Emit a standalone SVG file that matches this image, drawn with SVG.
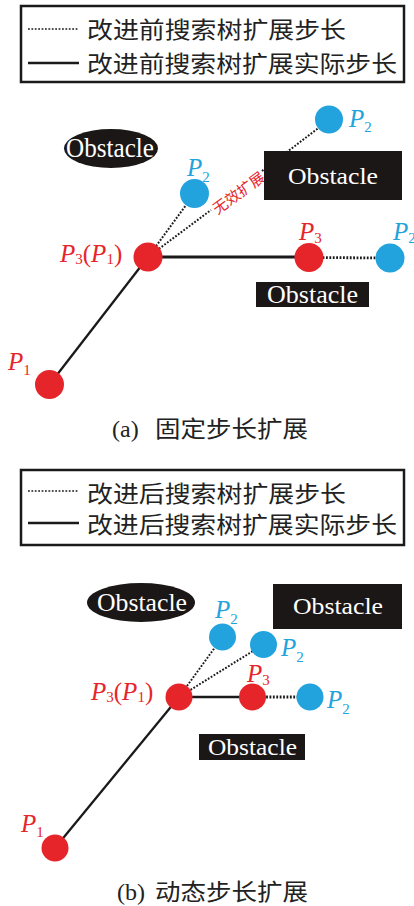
<svg xmlns="http://www.w3.org/2000/svg" width="414" height="906" viewBox="0 0 414 906">
<style>
.cjk{font-family:"Liberation Serif","Times New Roman","DejaVu Serif","Noto Sans CJK SC",serif;fill:#222;}
.ser{font-family:"Liberation Serif","Times New Roman","DejaVu Serif",serif;}
.obs{fill:#1c1717;}
.obt{font-family:"Liberation Serif","Times New Roman","DejaVu Serif",serif;fill:#fff;}
.red{fill:#e6252a;}
.blue{fill:#22a3dd;}
.lbl{font-family:"Liberation Serif","Times New Roman","DejaVu Serif",serif;font-size:25px;}
.it{font-style:italic;}
.sub{font-size:15px;}
.solid{stroke:#1a1a1a;fill:none;}
.dot{stroke:#1a1a1a;fill:none;stroke-dasharray:1.8 1.6;}
.box{fill:#fff;stroke:#1a1a1a;stroke-width:2.5;}
</style>
<rect width="414" height="906" fill="#fff"/>

<!-- Panel (a) legend -->
<g id="legend-a">
<rect class="box" x="21" y="6" width="383" height="76"/>
<line class="dot" x1="28" y1="29" x2="79" y2="29" stroke-width="1.6"/>
<text class="cjk" x="87" y="37.5" font-size="23" textLength="259" lengthAdjust="spacingAndGlyphs">改进前搜索树扩展步长</text>
<line class="solid" x1="28" y1="63" x2="79" y2="63" stroke-width="2.5"/>
<text class="cjk" x="87" y="72" font-size="23" textLength="310" lengthAdjust="spacingAndGlyphs">改进前搜索树扩展实际步长</text>
</g>

<!-- Panel (a) connectors -->
<g id="connectors-a">
<line class="solid" x1="49.5" y1="384.5" x2="148" y2="257" stroke-width="2.3"/>
<line class="solid" x1="148" y1="257" x2="309" y2="257" stroke-width="3"/>
<line class="dot" x1="309" y1="257.5" x2="390" y2="258" stroke-width="2.8"/>
<line class="dot" x1="148" y1="257" x2="194.5" y2="193.5" stroke-width="2"/>
<line class="dot" x1="148" y1="257" x2="211" y2="210" stroke-width="2"/>
<line class="dot" x1="262" y1="171" x2="329" y2="120" stroke-width="2"/>
<text x="0" y="0" font-family="'Noto Sans CJK SC',sans-serif" font-size="15" fill="#e6252a" text-anchor="middle" dominant-baseline="central" transform="translate(238,192) rotate(-36)">无效扩展</text>
</g>

<g id="obstacle-a-ellipse">
<ellipse class="obs" cx="111" cy="148.5" rx="47" ry="19.5"/>
<text class="obt" x="66" y="157" font-size="27" textLength="88" lengthAdjust="spacingAndGlyphs">Obstacle</text>
</g>
<g id="obstacle-a-top">
<rect class="obs" x="264" y="151" width="138" height="49"/>
<text class="obt" x="288" y="184" font-size="23" textLength="90" lengthAdjust="spacingAndGlyphs">Obstacle</text>
</g>
<g id="obstacle-a-bottom">
<rect class="obs" x="256" y="282" width="113" height="25"/>
<text class="obt" x="267" y="302.5" font-size="25" textLength="91" lengthAdjust="spacingAndGlyphs">Obstacle</text>
</g>

<g id="a-P2-top">
<circle class="blue" cx="329" cy="119.5" r="14"/>
<text class="lbl blue" x="349" y="127"><tspan class="it">P</tspan><tspan class="sub" dy="4.5">2</tspan></text>
</g>
<g id="a-P2-left">
<circle class="blue" cx="194.5" cy="193.5" r="14.5"/>
<text class="lbl blue" x="187" y="175.5"><tspan class="it">P</tspan><tspan class="sub" dy="6">2</tspan></text>
</g>
<g id="a-P3P1">
<circle class="red" cx="148" cy="257" r="14.5"/>
<text class="lbl red" x="60" y="262" font-size="27"><tspan class="it">P</tspan><tspan class="sub" dy="1.5">3</tspan><tspan dy="-1.5">(</tspan><tspan class="it">P</tspan><tspan class="sub" dy="1.5">1</tspan><tspan dy="-1.5">)</tspan></text>
</g>
<g id="a-P3">
<circle class="red" cx="309" cy="257.5" r="14.5"/>
<text class="lbl red" x="299" y="239.5"><tspan class="it">P</tspan><tspan class="sub" dy="3.5">3</tspan></text>
</g>
<g id="a-P2-right">
<circle class="blue" cx="390" cy="258" r="14.5"/>
<text class="lbl blue" x="393" y="239.5"><tspan class="it">P</tspan><tspan class="sub" dy="3.5">2</tspan></text>
</g>
<g id="a-P1">
<circle class="red" cx="49.5" cy="384.5" r="14.5"/>
<text class="lbl red" x="8" y="370" font-size="23"><tspan class="it">P</tspan><tspan class="sub" dy="5">1</tspan></text>
</g>

<g id="caption-a">
<text class="ser" x="112" y="437" font-size="24" fill="#222">(a)</text>
<text class="cjk" x="155" y="437" font-size="23" textLength="153" lengthAdjust="spacingAndGlyphs">固定步长扩展</text>
</g>

<!-- Panel (b) legend -->
<g id="legend-b">
<rect class="box" x="21" y="470" width="383" height="75"/>
<line class="dot" x1="28" y1="491" x2="79" y2="491" stroke-width="1.6"/>
<text class="cjk" x="87" y="501.5" font-size="23" textLength="259" lengthAdjust="spacingAndGlyphs">改进后搜索树扩展步长</text>
<line class="solid" x1="28" y1="523" x2="79" y2="523" stroke-width="2.5"/>
<text class="cjk" x="87" y="533" font-size="23" textLength="310" lengthAdjust="spacingAndGlyphs">改进后搜索树扩展实际步长</text>
</g>

<!-- Panel (b) connectors -->
<g id="connectors-b">
<line class="solid" x1="55" y1="848" x2="179" y2="697" stroke-width="2.3"/>
<line class="solid" x1="179" y1="697" x2="252.5" y2="697" stroke-width="2.6"/>
<line class="dot" x1="252.5" y1="697" x2="310" y2="697" stroke-width="2.8"/>
<line class="dot" x1="179" y1="697" x2="222.5" y2="637" stroke-width="2"/>
<line class="dot" x1="179" y1="697" x2="263.5" y2="644.5" stroke-width="2"/>
</g>

<g id="obstacle-b-ellipse">
<ellipse class="obs" cx="141" cy="602.5" rx="54" ry="19.5"/>
<text class="obt" x="97" y="610.5" font-size="26" textLength="90" lengthAdjust="spacingAndGlyphs">Obstacle</text>
</g>
<g id="obstacle-b-top">
<rect class="obs" x="273" y="584" width="129" height="45"/>
<text class="obt" x="293" y="614" font-size="24" textLength="90" lengthAdjust="spacingAndGlyphs">Obstacle</text>
</g>
<g id="obstacle-b-bottom">
<rect class="obs" x="199" y="734" width="106" height="26"/>
<text class="obt" x="208" y="755" font-size="24" textLength="89" lengthAdjust="spacingAndGlyphs">Obstacle</text>
</g>

<g id="b-P2-left">
<circle class="blue" cx="222.5" cy="637" r="13.5"/>
<text class="lbl blue" x="215" y="618"><tspan class="it">P</tspan><tspan class="sub" dy="6">2</tspan></text>
</g>
<g id="b-P2-mid">
<circle class="blue" cx="263.5" cy="644.5" r="13.5"/>
<text class="lbl blue" x="281" y="656"><tspan class="it">P</tspan><tspan class="sub" dy="6">2</tspan></text>
</g>
<g id="b-P3P1">
<circle class="red" cx="179" cy="697" r="13.5"/>
<text class="lbl red" x="91" y="700"><tspan class="it">P</tspan><tspan class="sub" dy="2">3</tspan><tspan dy="-2">(</tspan><tspan class="it">P</tspan><tspan class="sub" dy="2">1</tspan><tspan dy="-2">)</tspan></text>
</g>
<g id="b-P3">
<circle class="red" cx="252.5" cy="697" r="13.5"/>
<text class="lbl red" x="247" y="682"><tspan class="it">P</tspan><tspan class="sub" dy="3">3</tspan></text>
</g>
<g id="b-P2-right">
<circle class="blue" cx="310" cy="697" r="13.5"/>
<text class="lbl blue" x="327" y="708"><tspan class="it">P</tspan><tspan class="sub" dy="6">2</tspan></text>
</g>
<g id="b-P1">
<circle class="red" cx="55" cy="848" r="13.5"/>
<text class="lbl red" x="21" y="832"><tspan class="it">P</tspan><tspan class="sub" dy="5">1</tspan></text>
</g>

<g id="caption-b">
<text class="ser" x="117" y="900" font-size="24" fill="#222">(b)</text>
<text class="cjk" x="155" y="900" font-size="23" textLength="153" lengthAdjust="spacingAndGlyphs">动态步长扩展</text>
</g>
</svg>
